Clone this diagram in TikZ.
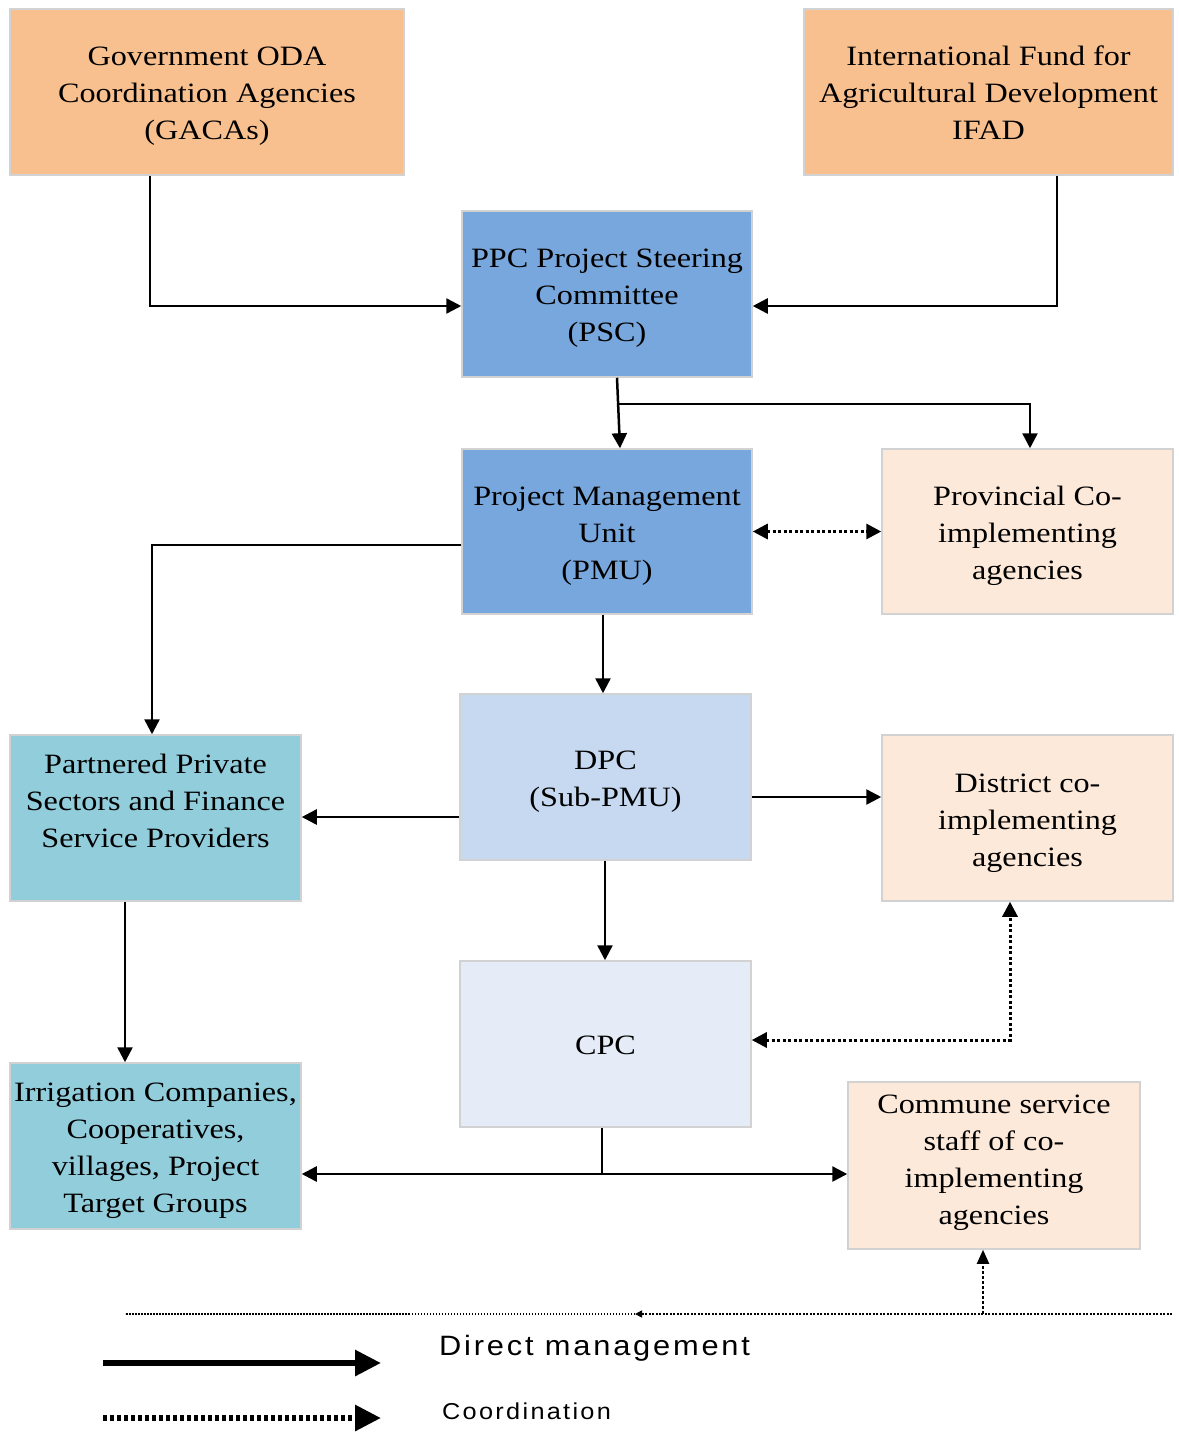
\documentclass[tikz,border=0pt]{standalone}
\usepackage{fontspec}
\setmainfont{Liberation Serif}[FakeStretch=1.15]
\newfontfamily\legendfont{Liberation Sans}[FakeStretch=1.1, LetterSpace=10]
\usetikzlibrary{arrows.meta,calc}

\definecolor{orangebox}{RGB}{249,192,143}
\definecolor{bluebox}{RGB}{120,167,221}
\definecolor{dpcbox}{RGB}{198,217,240}
\definecolor{cpcbox}{RGB}{229,236,247}
\definecolor{tealbox}{RGB}{146,205,220}
\definecolor{peachbox}{RGB}{253,233,217}
\definecolor{boxedge}{RGB}{210,210,210}

\tikzset{
  box/.style={draw=boxedge, line width=1.5pt, rectangle, inner sep=0pt},
  boxtext/.style={align=center, inner sep=0pt, font=\fontsize{28}{37}\selectfont},
  arr/.style={line width=2.5pt, -{Triangle[length=15pt,width=15pt]}},
  plain/.style={line width=2.5pt},
  coordline/.style={line width=3pt, dash pattern=on 3pt off 2.5pt},
  coordboth/.style={coordline, {Triangle[length=15pt,width=15pt]}-{Triangle[length=15pt,width=15pt]}},
}

\begin{document}
\begin{tikzpicture}[x=1pt,y=-1pt]
\useasboundingbox (0,0) rectangle (1178,1432);

% organisation boxes
\node[box, fill=orangebox, minimum width=394, minimum height=166] (gaca) at (207,92) {};
\node[box, fill=orangebox, minimum width=369, minimum height=166] (ifad) at (988.5,92) {};
\node[box, fill=bluebox, minimum width=290, minimum height=166] (psc) at (607,294) {};
\node[box, fill=bluebox, minimum width=290, minimum height=165] (pmu) at (607,531.5) {};
\node[box, fill=peachbox, minimum width=291, minimum height=165] (prov) at (1027.5,531.5) {};
\node[box, fill=dpcbox, minimum width=291, minimum height=166] (dpc) at (605.5,777) {};
\node[box, fill=peachbox, minimum width=291, minimum height=166] (dist) at (1027.5,818) {};
\node[box, fill=tealbox, minimum width=291, minimum height=166] (part) at (155.5,818) {};
\node[box, fill=cpcbox, minimum width=291, minimum height=166] (cpc) at (605.5,1044) {};
\node[box, fill=tealbox, minimum width=291, minimum height=166] (irr) at (155.5,1146) {};
\node[box, fill=peachbox, minimum width=292, minimum height=167] (comm) at (994,1165.5) {};

% box captions
\node[boxtext] (gacatext) at ($(gaca.center)+(0,4)$)
  {Government ODA\\Coordination Agencies\\(GACAs)};
\node[boxtext] (ifadtext) at ($(ifad.center)+(0,1)$)
  {International Fund for\\Agricultural Development\\IFAD};
\node[boxtext] (psctext) at ($(psc.center)+(0,4)$)
  {PPC Project Steering\\Committee\\(PSC)};
\node[boxtext] (pmutext) at ($(pmu.center)+(0,5)$)
  {Project Management\\Unit\\(PMU)};
\node[boxtext] (provtext) at ($(prov.center)+(0,4.5)$)
  {Provincial Co-\\implementing\\agencies};
\node[boxtext] (dpctext) at ($(dpc.center)+(0,5)$)
  {DPC\\(Sub-PMU)};
\node[boxtext] (disttext) at ($(dist.center)+(0,5)$)
  {District co-\\implementing\\agencies};
\node[boxtext] (parttext) at ($(part.center)+(0,-17)$)
  {Partnered Private\\Sectors and Finance\\Service Providers};
\node[boxtext] (cpctext) at ($(cpc.center)+(0,1)$)
  {CPC};
\node[boxtext] (irrtext) at ($(irr.center)+(0,5)$)
  {Irrigation Companies,\\Cooperatives,\\villages, Project\\Target Groups};
\node[boxtext] (commtext) at ($(comm.center)+(0,-3)$)
  {Commune service\\staff of co-\\implementing\\agencies};

% direct management links
\draw[arr] (gaca.south -| 150,0) |- (psc.west |- 0,306);
\draw[arr] (ifad.south -| 1057,0) |- (psc.east |- 0,306);
\draw[arr] (psc.south -| 617,0) -- (pmu.north -| 620,0);
\coordinate (jpsc) at (618.5,404);
\draw[arr] (jpsc) -| (prov.north -| 1030,0);
\draw[arr] (pmu.west |- 0,545) -| (part.north -| 152,0);
\draw[arr] (pmu.south -| 603,0) -- (dpc.north -| 603,0);
\draw[arr] (dpc.west |- 0,817) -- (part.east |- 0,817);
\draw[arr] (dpc.east |- 0,797) -- (dist.west |- 0,797);
\draw[arr] (dpc.south -| 605,0) -- (cpc.north -| 605,0);
\draw[arr] (part.south -| 125,0) -- (irr.north -| 125,0);
\coordinate (jcpc) at (602,1174);
\draw[plain] (cpc.south -| 602,0) -- (jcpc);
\draw[arr] (jcpc) -- (irr.east |- jcpc);
\draw[arr] (jcpc) -- (comm.west |- jcpc);

% coordination links
\draw[coordboth] (pmu.east) -- (prov.west);
\draw[coordboth] (cpc.east |- 0,1040) -| (dist.south -| 1010,0);

% separator line above the legend
\coordinate (sepL) at (125,1314);
\coordinate (sepK) at (410,1314);
\coordinate (sepM) at (635,1314);
\coordinate (sepR) at (1172,1314);
\coordinate (sepU) at (983,1314);
\draw[line width=1.5pt, dash pattern=on 2pt off 1.5pt, -{Triangle[length=7pt,width=7pt]}] (sepR) -- (sepM);
\draw[line width=1.2pt, dash pattern=on 1.5pt off 1.5pt] (sepM) -- (sepK);
\draw[line width=1.8pt, dash pattern=on 2pt off 1pt] (sepK) -- (sepL);
\draw[line width=2pt, dash pattern=on 3pt off 2pt, -{Triangle[length=14pt,width=12pt]}] (sepU) -- (comm.south -| sepU);

% legend
\coordinate (l1a) at (103,1363);
\coordinate (l1b) at (381,1363);
\coordinate (l2a) at (103,1418);
\coordinate (l2b) at (381,1418);
\draw[line width=6pt, -{Triangle[length=26pt,width=25pt]}] (l1a) -- (l1b);
\draw[line width=6pt, dash pattern=on 4pt off 3pt, -{Triangle[length=26pt,width=25pt]}] (l2a) -- (l2b);
\node[anchor=west, inner sep=0pt, font=\legendfont\fontsize{28}{34}\selectfont] (leg1) at (439,1348) {Direct management};
\node[anchor=west, inner sep=0pt, font=\legendfont\fontsize{23}{28}\selectfont] (leg2) at (442,1411) {Coordination};
\end{tikzpicture}
\end{document}
